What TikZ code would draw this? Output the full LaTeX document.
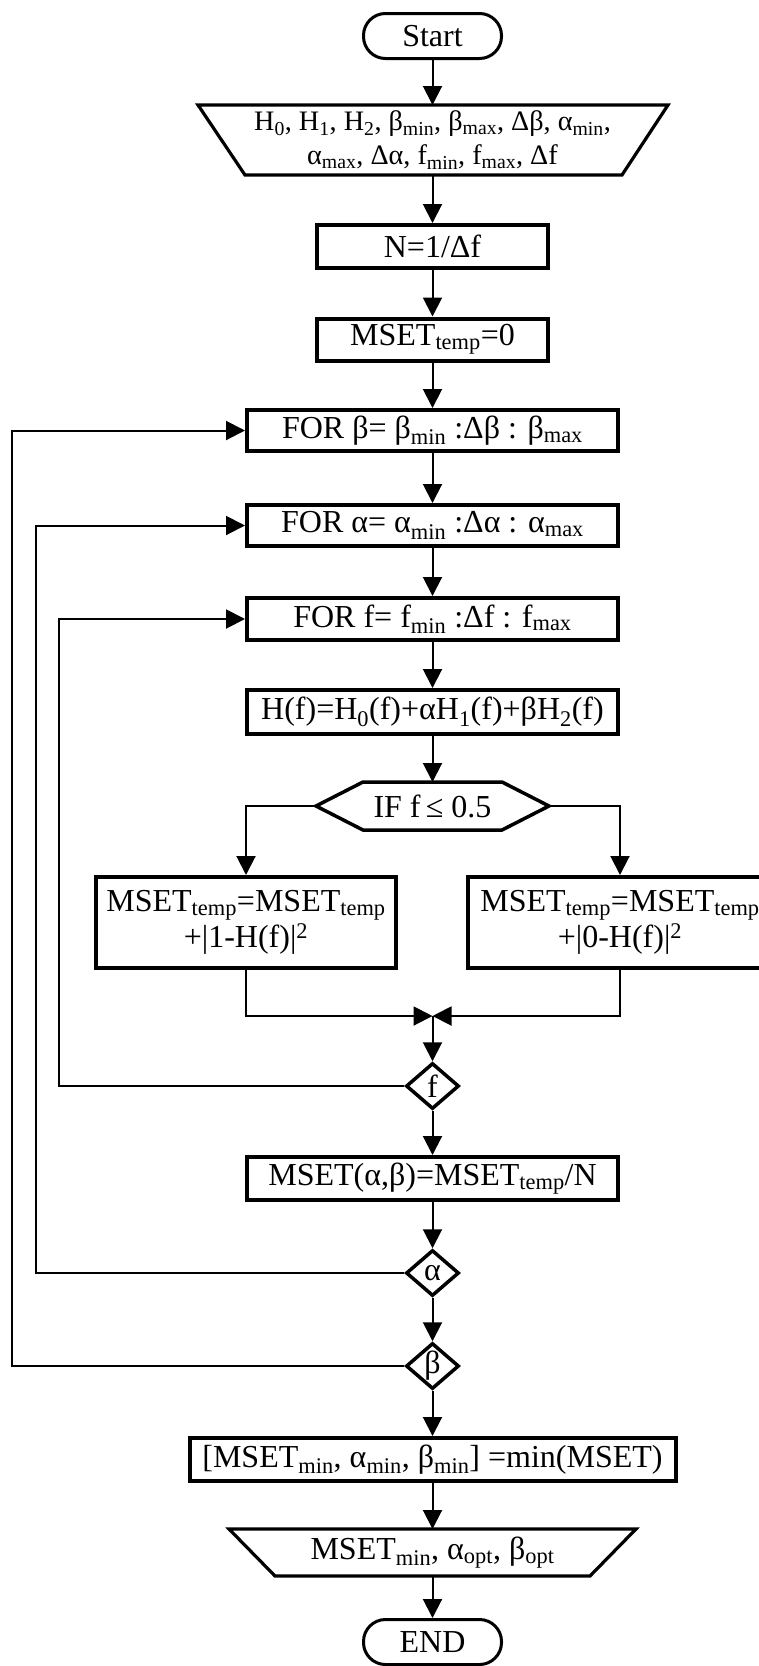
\documentclass[tikz,border=0pt]{standalone}
\usepackage{fontspec}
\setmainfont{Liberation Serif}
\usetikzlibrary{arrows.meta,shapes.geometric,calc}
\newcommand{\sbs}[1]{\textsubscript{#1}}
\newcommand{\sps}[1]{\textsuperscript{#1}}
\newcommand{\fbig}{\fontsize{32}{36}\selectfont}
\newcommand{\fsmall}{\fontsize{28.2}{34}\selectfont}
\tikzset{
  proc/.style={draw, rectangle, line width=4pt, inner sep=0pt, align=center, font=\fbig},
  term/.style={draw, rectangle, rounded corners=22pt, line width=3pt, inner sep=0pt, font=\fbig,
               minimum width=138pt, minimum height=45pt},
  dia/.style={draw, diamond, line width=3.5pt, inner sep=0pt, font=\fbig,
              minimum width=53pt, minimum height=46pt},
  hid/.style={rectangle, inner sep=0pt, outer sep=0pt, align=center},
  shp/.style={line width=3.2pt, line join=miter},
  conn/.style={line width=2pt, -{Triangle[length=19pt,width=19pt]}},
  wire/.style={line width=2pt}
}
\begin{document}
\begin{tikzpicture}[x=1pt,y=-1pt]
\useasboundingbox (0,0) rectangle (759,1666);
\clip (0,0) rectangle (759,1666);
% terminals
\node[term] (start) at (432.5,36) {Start};
\node[term] (stop) at (432.5,1642) {END};
% input trapezoid
\draw[shp] (198,105) -- (668,105) -- (622,175) -- (245,175) -- cycle;
\node[hid, font=\fsmall, minimum width=470pt, minimum height=70pt] (in) at (432.5,140)
  {H\sbs{0}, H\sbs{1}, H\sbs{2}, β\sbs{min}, β\sbs{max}, Δβ, α\sbs{min},\\
   α\sbs{max}, Δα, f\sbs{min}, f\sbs{max}, Δf};
% process boxes
\node[proc, minimum width=231pt, minimum height=43pt] (nb) at (432.5,246.5) {N=1/Δf};
\node[proc, minimum width=231pt, minimum height=42pt] (m0) at (432.5,339.5) {MSET\sbs{temp}=0};
\node[proc, minimum width=371pt, minimum height=41pt] (forb) at (432.5,430.5) {FOR β= β\sbs{min} :Δβ : β\sbs{max}};
\node[proc, minimum width=371pt, minimum height=41pt] (fora) at (432.5,525.5) {FOR α= α\sbs{min} :Δα : α\sbs{max}};
\node[proc, minimum width=371pt, minimum height=42pt] (forf) at (432.5,619) {FOR f= f\sbs{min} :Δf : f\sbs{max}};
\node[proc, minimum width=371pt, minimum height=44pt] (hf) at (432.5,712) {H(f)=H\sbs{0}(f)+αH\sbs{1}(f)+βH\sbs{2}(f)};
% IF hexagon
\draw[shp, line width=3.5pt] (316,806) -- (363,782) -- (502,782) -- (549,806) -- (502,830) -- (363,830) -- cycle;
\node[hid, font=\fbig, minimum width=233pt, minimum height=48pt] (if) at (432.5,806) {IF f\,≤ 0.5};
% branch boxes
\node[proc, minimum width=300pt, minimum height=91pt] (lb) at (246,922.5)
  {MSET\sbs{temp}=MSET\sbs{temp}\\+|1-H(f)|\sps{2}};
\node[proc, minimum width=304pt, minimum height=91pt] (rb) at (620,922.5)
  {MSET\sbs{temp}=MSET\sbs{temp}\\+|0-H(f)|\sps{2}};
\coordinate (mg) at (432.5,1016);
% decisions
\node[dia] (fd) at (432.5,1086) {f};
\node[proc, minimum width=371pt, minimum height=43pt] (mab) at (432.5,1178.5) {MSET(α,β)=MSET\sbs{temp}/N};
\node[dia] (ad) at (432.5,1273) {α};
\node[dia] (bd) at (432.5,1366) {β};
\node[proc, minimum width=486pt, minimum height=43pt] (minb) at (432.5,1459.5) {[MSET\sbs{min}, α\sbs{min}, β\sbs{min}] =min(MSET)};
% output trapezoid
\draw[shp] (229,1529) -- (636,1529) -- (590,1576) -- (275,1576) -- cycle;
\node[hid, font=\fbig, minimum width=407pt, minimum height=47pt] (out) at (432.5,1552.5)
  {MSET\sbs{min}, α\sbs{opt}, β\sbs{opt}};
% loop rails
\coordinate (rf) at (59,0);
\coordinate (ra) at (36,0);
\coordinate (rbt) at (12,0);
% main connectors
\draw[conn] (start) -- (in);
\draw[conn] (in) -- (nb);
\draw[conn] (nb) -- (m0);
\draw[conn] (m0) -- (forb);
\draw[conn] (forb) -- (fora);
\draw[conn] (fora) -- (forf);
\draw[conn] (forf) -- (hf);
\draw[conn] (hf) -- (if);
\draw[conn] (if.west) -| (lb.north);
\draw[conn] (if.east) -| (rb.north);
\draw[conn] (lb.south) |- (mg);
\draw[conn] (rb.south) |- (mg);
\draw[conn] (mg) -- (fd.north);
\draw[conn] (fd) -- (mab);
\draw[conn] (mab) -- (ad);
\draw[conn] (ad) -- (bd);
\draw[conn] (bd) -- (minb);
\draw[conn] (minb) -- (out);
\draw[conn] (out) -- (stop);
% loop connectors
\draw[conn] (fd.west) -- (fd.west -| rf) |- (forf.west);
\draw[conn] (ad.west) -- (ad.west -| ra) |- (fora.west);
\draw[conn] (bd.west) -- (bd.west -| rbt) |- (forb.west);
\end{tikzpicture}
\end{document}
